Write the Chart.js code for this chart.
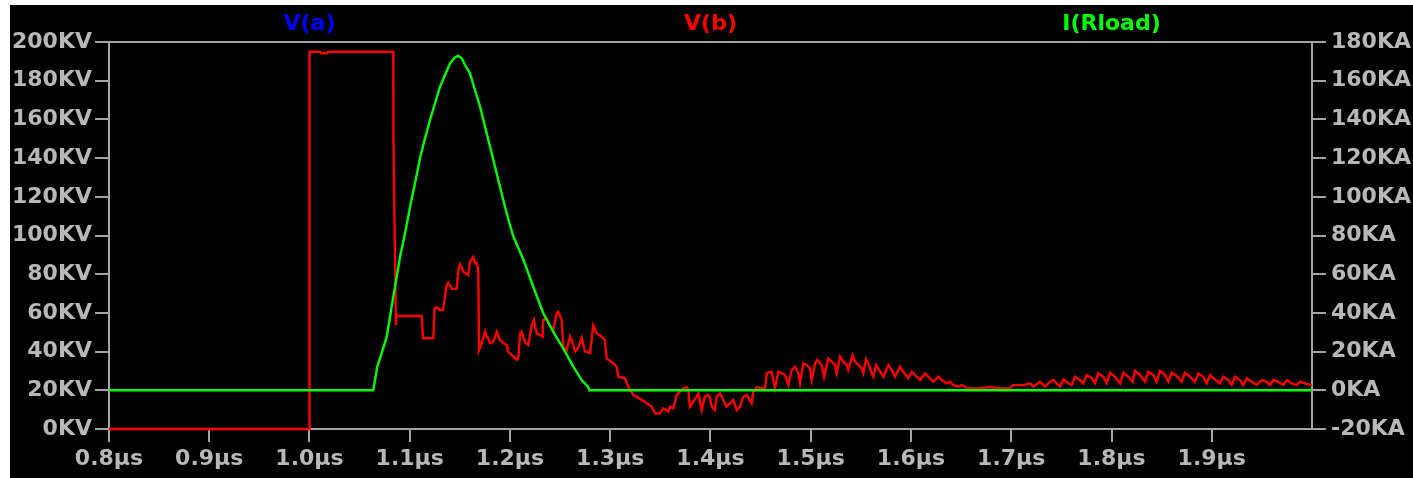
<!DOCTYPE html>
<html>
<head>
<meta charset="utf-8">
<script src="https://cdn.jsdelivr.net/npm/chart.js@4.4.1/dist/chart.umd.min.js"></script>
<style>
  html, body { margin: 0; padding: 0; background: #ffffff; }
  #panel { position: absolute; left: 10px; top: 5px; width: 1403px; height: 473px; background: #000000; }
  canvas { display: block; }
</style>
</head>
<body>
<div id="panel"><canvas id="scope" width="1403" height="473"></canvas></div>
<script>
// Transient simulation: time in µs, voltages in kV, load current in kA.
const timeTicks = [0.8, 0.9, 1.0, 1.1, 1.2, 1.3, 1.4, 1.5, 1.6, 1.7, 1.8, 1.9];
const voltTicks = [0, 20, 40, 60, 80, 100, 120, 140, 160, 180, 200];
const ampTicks  = [-20, 0, 20, 40, 60, 80, 100, 120, 140, 160, 180];

// V(a) trace (lies under V(b), nothing of it is visible)
const vaPoints = [];

// V(b): [time µs, kV]
const vbPoints = [
  [0.800,0],[1.000,0],[1.000,195.0],[1.0105,195.0],[1.0115,194.2],[1.0175,194.2],[1.0185,195.0],
  [1.0836,195.0],[1.0837,151.1],[1.0862,53.7],[1.0865,58.4],[1.1119,58.4],[1.1132,46.9],[1.1235,46.9],
  [1.1247,62.4],[1.1269,63.0],[1.1302,61.5],[1.1332,61.5],[1.1369,74.4],[1.1385,75.6],[1.1421,72.4],
  [1.1468,72.4],[1.1484,82.2],[1.1501,85.1],[1.1534,81.3],[1.1584,79.6],[1.1601,86.5],[1.1634,89.0],
  [1.1651,85.6],[1.1668,85.8],[1.1684,82.2],[1.1691,40.8],[1.1718,44.3],[1.1751,50.3],[1.1768,47.7],
  [1.1784,46.9],[1.1801,44.3],[1.1834,45.1],[1.1868,50.3],[1.1900,46.0],[1.1933,44.3],[1.1967,43.4],
  [1.1983,39.9],[1.2017,38.2],[1.2067,35.7],[1.2083,36.5],[1.2100,49.5],[1.2117,50.3],[1.2150,45.1],
  [1.2183,43.4],[1.2217,53.7],[1.2239,56.3],[1.2266,49.5],[1.2299,48.6],[1.2325,47.7],[1.2332,56.3],
  [1.2366,57.2],[1.2399,52.9],[1.2432,51.2],[1.2466,59.9],[1.2481,60.6],[1.2516,56.3],[1.2532,42.5],
  [1.2566,40.8],[1.2599,47.7],[1.2626,44.3],[1.2648,40.1],[1.2681,41.9],[1.2715,47.0],[1.2748,40.1],
  [1.2798,39.2],[1.2831,53.7],[1.2865,49.5],[1.2915,47.7],[1.2947,46.0],[1.2964,36.5],[1.3030,34.0],
  [1.3064,32.2],[1.3080,27.0],[1.3147,26.2],[1.3180,21.9],[1.3230,17.6],[1.3264,16.7],[1.3314,15.0],
  [1.3364,13.3],[1.3414,11.5],[1.3446,8.1],[1.3496,8.1],[1.3529,10.7],[1.3579,9.0],[1.3596,11.5],
  [1.3629,10.7],[1.3663,17.6],[1.3729,21.0],[1.3763,21.6],[1.3779,20.2],[1.3795,11.5],[1.3829,14.1],
  [1.3862,16.7],[1.3879,18.4],[1.3912,9.8],[1.3944,16.7],[1.3978,17.6],[1.3995,15.9],[1.4012,11.5],
  [1.4044,9.8],[1.4061,16.7],[1.4095,18.4],[1.4128,15.0],[1.4161,11.5],[1.4195,13.3],[1.4228,15.0],
  [1.4261,9.8],[1.4294,11.5],[1.4327,16.7],[1.4361,17.6],[1.4377,15.9],[1.4410,13.3],[1.4427,19.3],
  [1.4461,21.6],[1.4511,21.0],[1.4544,21.0],[1.4561,28.8],[1.4610,29.6],[1.4627,25.3],[1.4643,21.0],
  [1.4676,29.6],[1.4710,28.8],[1.4743,27.9],[1.4776,22.7],[1.4810,30.5],[1.4843,32.2],[1.4876,28.8],
  [1.4893,23.6],[1.4926,33.9],[1.4959,33.1],[1.4993,31.3],[1.5010,25.3],[1.5043,33.9],[1.5066,35.7],
  [1.5109,33.1],[1.5133,27.0],[1.5175,36.5],[1.5209,34.8],[1.5242,33.1],[1.5259,28.8],[1.5292,37.4],
  [1.5325,34.8],[1.5359,33.1],[1.5374,30.5],[1.5418,38.2],[1.5441,34.8],[1.5474,33.1],[1.5508,31.3],
  [1.5524,28.8],[1.5551,36.0],[1.5574,33.9],[1.5608,28.8],[1.5624,27.0],[1.5651,33.1],[1.5674,31.3],
  [1.5724,27.0],[1.5774,33.1],[1.5807,30.5],[1.5840,27.0],[1.5890,32.2],[1.5923,29.6],[1.5973,26.2],
  [1.6007,29.6],[1.6040,27.9],[1.6090,25.3],[1.6140,28.8],[1.6173,27.0],[1.6223,24.4],[1.6273,27.0],
  [1.6307,25.3],[1.6356,23.6],[1.6389,24.4],[1.6422,22.7],[1.6472,21.9],[1.6506,22.7],[1.6556,21.0],
  [1.6688,21.0],[1.6788,21.7],[1.6888,21.0],[1.6988,21.0],[1.7020,22.7],[1.7120,22.7],[1.7187,23.6],
  [1.7220,21.9],[1.7287,24.4],[1.7337,21.9],[1.7387,24.4],[1.7420,25.3],[1.7470,22.7],[1.7486,21.9],
  [1.7520,25.6],[1.7569,23.6],[1.7603,22.7],[1.7636,27.0],[1.7686,25.3],[1.7719,23.6],[1.7753,27.9],
  [1.7803,26.2],[1.7835,23.6],[1.7868,28.8],[1.7918,27.0],[1.7952,23.6],[1.7985,29.1],[1.8035,27.0],
  [1.8085,23.6],[1.8118,29.1],[1.8168,27.0],[1.8212,24.4],[1.8234,30.1],[1.8284,27.9],[1.8334,24.4],
  [1.8367,29.6],[1.8417,27.9],[1.8451,24.4],[1.8484,30.1],[1.8534,27.9],[1.8567,24.4],[1.8600,29.1],
  [1.8650,27.4],[1.8700,24.4],[1.8733,29.1],[1.8783,27.0],[1.8833,24.4],[1.8866,28.8],[1.8916,27.0],
  [1.8949,23.6],[1.8983,27.9],[1.9032,25.6],[1.9082,23.6],[1.9115,27.0],[1.9165,25.3],[1.9199,22.7],
  [1.9232,27.0],[1.9282,25.3],[1.9315,22.7],[1.9349,26.2],[1.9399,24.4],[1.9449,22.7],[1.9498,25.3],
  [1.9548,24.4],[1.9581,22.7],[1.9614,25.3],[1.9664,24.4],[1.9714,22.7],[1.9748,25.3],[1.9798,23.6],
  [1.9848,22.7],[1.9880,24.4],[1.9930,23.6],[1.9990,22.7],[2.000,23.0]
];

// I(Rload): [time µs, kA]
const iloadPoints = [
  [0.800,0],[1.0636,0],[1.0676,12.2],[1.0720,19.1],[1.0770,27.7],[1.0803,38.0],[1.0836,48.4],
  [1.0870,58.7],[1.0903,69.0],[1.0953,81.1],[1.1003,94.9],[1.1052,107.0],[1.1102,119.9],[1.1152,130.2],
  [1.1202,139.7],[1.1252,148.3],[1.1302,156.9],[1.1352,162.9],[1.1402,169.0],[1.1451,172.1],
  [1.1484,172.8],[1.1518,171.6],[1.1551,168.1],[1.1601,163.8],[1.1651,155.2],[1.1701,146.6],
  [1.1751,136.2],[1.1801,125.9],[1.1850,115.6],[1.1900,105.2],[1.1950,94.9],[1.1993,86.6],
  [1.2033,79.6],[1.2133,67.6],[1.2232,53.5],[1.2332,39.8],[1.2432,30.2],[1.2532,21.5],[1.2631,12.2],
  [1.2715,5.3],[1.2781,1.6],[1.2791,0],[2.000,0]
];

const AXIS_GRAY = '#a4a4a4';
const TEXT_GRAY = '#b8b8b8';
const LABEL_FONT = { family: 'DejaVu Sans', size: 22, weight: 'bold' };

const toXY = pts => pts.map(p => ({ x: p[0], y: p[1] }));
const fixedTicks = values => scale => { scale.ticks = values.map(v => ({ value: v })); };

// Frame line along the top edge of the plot
const topFrame = {
  id: 'topFrame',
  beforeDatasetsDraw(chart) {
    const { ctx, chartArea } = chart;
    ctx.save();
    ctx.strokeStyle = AXIS_GRAY;
    ctx.lineWidth = 2;
    ctx.beginPath();
    ctx.moveTo(chartArea.left, chartArea.top);
    ctx.lineTo(chartArea.right, chartArea.top);
    ctx.stroke();
    ctx.restore();
  }
};

// Trace names across the top, one per sixth of the plot width
const traceTitles = {
  id: 'traceTitles',
  afterDraw(chart) {
    const { ctx, chartArea } = chart;
    const ds = chart.data.datasets;
    const w = chartArea.right - chartArea.left;
    ctx.save();
    ctx.font = 'bold 22px "DejaVu Sans"';
    ctx.textAlign = 'center';
    ctx.textBaseline = 'middle';
    ds.forEach((d, i) => {
      ctx.fillStyle = d.borderColor;
      ctx.fillText(d.label, chartArea.left + w * (2 * i + 1) / (2 * ds.length), 19);
    });
    ctx.restore();
  }
};

new Chart(document.getElementById('scope'), {
  type: 'line',
  data: {
    datasets: [
      { label: 'V(a)', data: toXY(vaPoints), borderColor: '#0000ff', yAxisID: 'yV', order: 2 },
      { label: 'V(b)', data: toXY(vbPoints), borderColor: '#ff0000', yAxisID: 'yV', order: 1 },
      { label: 'I(Rload)', data: toXY(iloadPoints), borderColor: '#00ff00', yAxisID: 'yI', order: 0 }
    ]
  },
  options: {
    responsive: false,
    animation: false,
    devicePixelRatio: 1,
    layout: { padding: { top: 37, left: 0, right: 0, bottom: 0 } },
    elements: {
      line: { borderWidth: 2.4, tension: 0, fill: false },
      point: { radius: 0, hoverRadius: 0 }
    },
    datasets: { line: { clip: 3 } },
    plugins: { legend: { display: false }, tooltip: { enabled: false } },
    events: [],
    scales: {
      x: {
        type: 'linear', position: 'bottom', min: 0.8, max: 2.0,
        afterBuildTicks: fixedTicks(timeTicks),
        afterFit: s => { s.height = 49; },
        ticks: { color: TEXT_GRAY, font: LABEL_FONT, padding: 4, maxRotation: 0, autoSkip: false,
                 callback: v => v.toFixed(1) + 'µs' },
        grid: { drawOnChartArea: false, drawTicks: true, tickLength: 13, color: AXIS_GRAY, lineWidth: 2 },
        border: { display: true, color: AXIS_GRAY, width: 2 }
      },
      yV: {
        type: 'linear', position: 'left', min: 0, max: 200,
        afterBuildTicks: fixedTicks(voltTicks),
        afterFit: s => { s.width = 99; },
        ticks: { color: TEXT_GRAY, font: LABEL_FONT, padding: 3, callback: v => v + 'KV' },
        grid: { drawOnChartArea: false, drawTicks: true, tickLength: 14, color: AXIS_GRAY, lineWidth: 2 },
        border: { display: true, color: AXIS_GRAY, width: 2 }
      },
      yI: {
        type: 'linear', position: 'right', min: -20, max: 180,
        afterBuildTicks: fixedTicks(ampTicks),
        afterFit: s => { s.width = 101; },
        ticks: { color: TEXT_GRAY, font: LABEL_FONT, padding: 5, callback: v => v + 'KA' },
        grid: { drawOnChartArea: false, drawTicks: true, tickLength: 14, color: AXIS_GRAY, lineWidth: 2 },
        border: { display: true, color: AXIS_GRAY, width: 2 }
      }
    }
  },
  plugins: [topFrame, traceTitles]
});
</script>
</body>
</html>
